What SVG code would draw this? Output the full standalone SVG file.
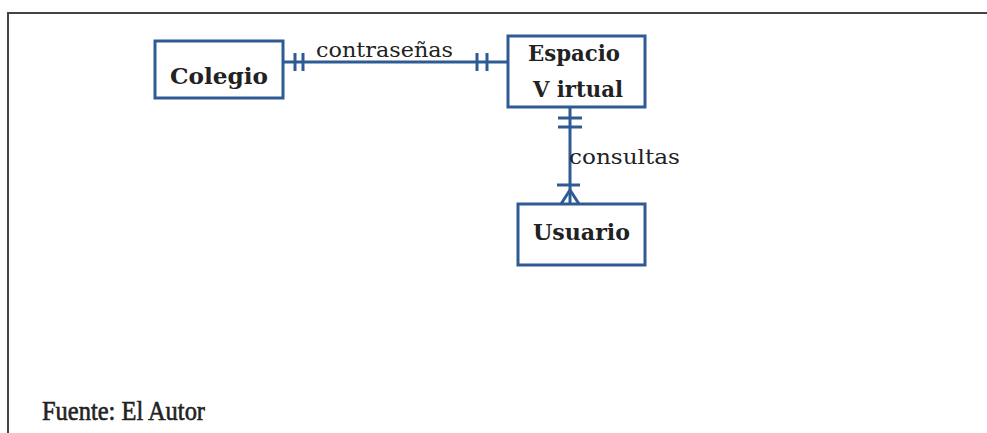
<svg xmlns="http://www.w3.org/2000/svg" width="987" height="433" viewBox="0 0 987 433">
<style>
.box{fill:#fff;stroke:#2f5b94;stroke-width:3}
.lbl{font-family:"DejaVu Serif",serif;font-weight:bold;font-size:22px;fill:#222}
.rel{font-family:"DejaVu Serif",serif;font-size:21px;fill:#222}
.ln{stroke:#2f5b94;stroke-width:3;fill:none}
</style>
<rect width="987" height="433" fill="#fff"/>
<path d="M8 433 V13 H987" fill="none" stroke="#444" stroke-width="2"/>
<g id="connectors">
<path class="ln" d="M283 62 H508"/>
<path class="ln" d="M295 53 V71 M303 53 V71"/>
<path class="ln" d="M477 53 V71 M487 53 V71"/>
<path class="ln" d="M570 107 V204"/>
<path class="ln" d="M558 118 H582 M558 127 H582"/>
<path class="ln" d="M557 185 H580"/>
<path class="ln" d="M570 190 L561 204 M570 190 L579 204"/>
<text class="rel" x="316" y="57" textLength="137" lengthAdjust="spacingAndGlyphs">contraseñas</text>
<text class="rel" x="569" y="164" textLength="111" lengthAdjust="spacingAndGlyphs">consultas</text>
</g>
<g id="colegio">
<rect class="box" x="155" y="41" width="128" height="57"/>
<text class="lbl" x="170" y="84" textLength="98" lengthAdjust="spacingAndGlyphs">Colegio</text>
</g>
<g id="espacio">
<rect class="box" x="508" y="36" width="137" height="71"/>
<text class="lbl" x="528" y="61" textLength="92" lengthAdjust="spacingAndGlyphs">Espacio</text>
<text class="lbl" x="533" y="97" textLength="90" lengthAdjust="spacingAndGlyphs">V irtual</text>
</g>
<g id="usuario">
<rect class="box" x="518" y="204" width="127" height="61"/>
<text class="lbl" x="533" y="240" textLength="97" lengthAdjust="spacingAndGlyphs">Usuario</text>
</g>
<text x="42" y="420" font-family="Liberation Serif,serif" font-size="27" fill="#222" stroke="#222" stroke-width="0.6" textLength="163" lengthAdjust="spacingAndGlyphs">Fuente: El Autor</text>
</svg>
